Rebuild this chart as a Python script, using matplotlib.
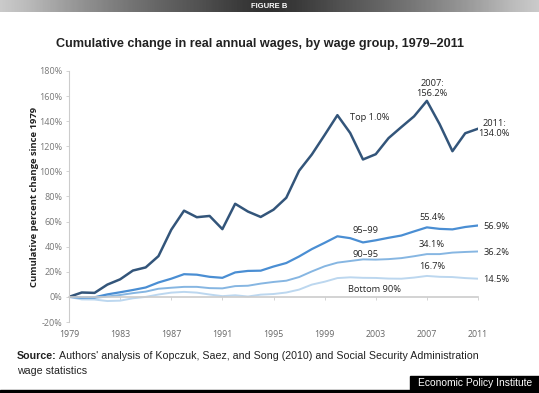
import numpy as np
import matplotlib.pyplot as plt
from matplotlib.patches import Rectangle

# Cumulative percent change in real annual wages since 1979
YEARS = list(range(1979, 2012))
TOP_1 = [0, 3.5, 3.2, 9.8, 14.0, 21.0, 23.5, 32.5, 53.5, 68.7, 63.5, 64.5, 54.0,
         74.2, 68.0, 63.7, 69.5, 79.0, 100.5, 113.5, 129.0, 144.8, 130.6, 109.5,
         113.7, 126.5, 135.3, 143.9, 156.2, 137.6, 116.1, 130.4, 134.0]
P95_99 = [0, -0.5, -0.3, 2.0, 3.7, 5.5, 7.5, 11.5, 14.5, 18.1, 17.7, 16.0, 15.2,
          19.5, 20.7, 20.9, 24.2, 27.0, 32.2, 38.1, 43.1, 48.3, 46.8, 43.4,
          45.1, 47.1, 48.9, 52.2, 55.4, 54.2, 53.8, 55.7, 56.9]
P90_95 = [0, -0.5, -0.8, 0.3, 1.5, 3.0, 4.2, 6.5, 7.3, 8.0, 8.0, 7.0, 6.8,
          8.6, 8.9, 10.6, 11.9, 12.9, 15.8, 20.3, 24.4, 27.3, 28.6, 29.9,
          29.7, 30.1, 30.9, 32.4, 34.1, 34.1, 35.3, 35.8, 36.2]
BOTTOM_90 = [0, -2.0, -2.1, -3.3, -3.0, -1.1, 0.0, 1.9, 3.4, 4.0, 3.4, 1.9, 0.6,
             1.3, 0.3, 1.8, 2.3, 3.5, 5.8, 9.8, 12.1, 15.0, 15.6, 15.2,
             15.1, 14.6, 14.5, 15.4, 16.7, 16.0, 15.8, 15.0, 14.5]

XTICKS = list(range(1979, 2012, 4))
YTICKS = list(range(-20, 181, 20))

SANS = ['Liberation Sans', 'DejaVu Sans']
CHART = ['Open Sans', 'DejaVu Sans']

W, H = 539, 393
fig = plt.figure(figsize=(W / 100, H / 100), dpi=100)

# Header bar with gradient (dark centre, grey edges)
bar = fig.add_axes([0, 1 - 12 / H, 1, 12 / H])
grad = np.abs(np.linspace(-1, 1, 400)) ** 1.3
bar.imshow(grad[None, :], aspect='auto', cmap='Greys_r', vmin=-0.3, vmax=1.6,
           extent=[0, 1, 0, 1])
bar.set_axis_off()
bar.text(0.5, 0.45, "FIGURE B", color='white', fontsize=5.5, fontweight='bold',
         ha='center', va='center', family=SANS)

fig.text(260 / W, 1 - 44 / H,
         "Cumulative change in real annual wages, by wage group, 1979\u20132011",
         ha='center', va='center', fontsize=9.1, fontweight='bold',
         family=SANS, color='#222222')

ax = fig.add_axes([69 / W, 1 - 322 / H, (478 - 69) / W, (322 - 71) / H])
ax.spines['bottom'].set_position(('data', 0))

ax.plot(YEARS, BOTTOM_90, color='#bcd7ef', lw=1.4)
ax.plot(YEARS, P90_95, color='#86b6e2', lw=1.4)
ax.plot(YEARS, P95_99, color='#4a8ed3', lw=1.6)
ax.plot(YEARS, TOP_1, color='#33557a', lw=1.8)

ax.set_xlim(1979, 2011)
ax.set_ylim(-20, 180)
ax.set_yticks(YTICKS)
ax.set_yticklabels([f"{v}%" for v in YTICKS], family=CHART, fontsize=6.5,
                   color='#777777')
ax.set_xticks(XTICKS)
ax.set_xticklabels([str(v) for v in XTICKS], family=CHART, fontsize=6.3,
                   color='#666666')

for s in ['top', 'right']:
    ax.spines[s].set_visible(False)
ax.spines['left'].set_color('#cccccc')
ax.spines['left'].set_linewidth(0.8)
ax.spines['bottom'].set_color('#cccccc')
ax.spines['bottom'].set_linewidth(1.2)
ax.tick_params(axis='y', length=2.5, width=0.6, color='#cccccc', pad=2)
ax.tick_params(axis='x', length=2, width=0.6, color='#cccccc', pad=22)

ax.set_ylabel("Cumulative percent change since 1979", family=CHART,
              fontweight='bold', fontsize=6.8, color='#222222', labelpad=0)

lab = dict(family=CHART, fontsize=6.7, color='#262626', va='center')
ax.text(2002.55, 143.0, "Top 1.0%", ha='center', **lab)
ax.text(2007.4, 166.3, "2007:\n156.2%", ha='center', linespacing=1.1, **lab)
ax.text(2012.25, 134.2, "2011:\n134.0%", ha='center', linespacing=1.1, **lab)
ax.text(2002.2, 53.1, "95\u201399", ha='center', **lab)
ax.text(2007.4, 63.3, "55.4%", ha='center', **lab)
ax.text(2011.4, 56.3, "56.9%", ha='left', **lab)
ax.text(2002.2, 34.0, "90\u201395", ha='center', **lab)
ax.text(2007.4, 41.8, "34.1%", ha='center', **lab)
ax.text(2011.4, 35.4, "36.2%", ha='left', **lab)
ax.text(2007.4, 23.9, "16.7%", ha='center', **lab)
ax.text(2011.4, 13.9, "14.5%", ha='left', **lab)
ax.text(2002.9, 5.9, "Bottom 90%", ha='center', **lab)

# Source note
src_y = 1 - 356 / H
t = fig.text(17 / W, src_y, "Source:", fontsize=7.7, fontweight='bold',
             family=SANS, color='#222222', va='center')
fig.canvas.draw()
bb = t.get_window_extent()
fig.text(bb.x1 / W + 2.5 / W, src_y,
         "Authors' analysis of Kopczuk, Saez, and Song (2010) and Social Security Administration",
         fontsize=7.7, family=SANS, color='#222222', va='center')
fig.text(17 / W, 1 - 371 / H, "wage statistics", fontsize=7.7, family=SANS,
         color='#222222', va='center')

# Footer
fig.add_artist(Rectangle((0, 0), 1, 3 / H, transform=fig.transFigure,
                         color='black'))
fig.add_artist(Rectangle((410 / W, 0), 1 - 410 / W, 17 / H,
                         transform=fig.transFigure, color='black'))
fig.text(475 / W, 1 - 383.5 / H, "Economic Policy Institute", color='white',
         fontsize=7.4, family=SANS, ha='center', va='center')

fig.savefig("out.png", dpi=100)
